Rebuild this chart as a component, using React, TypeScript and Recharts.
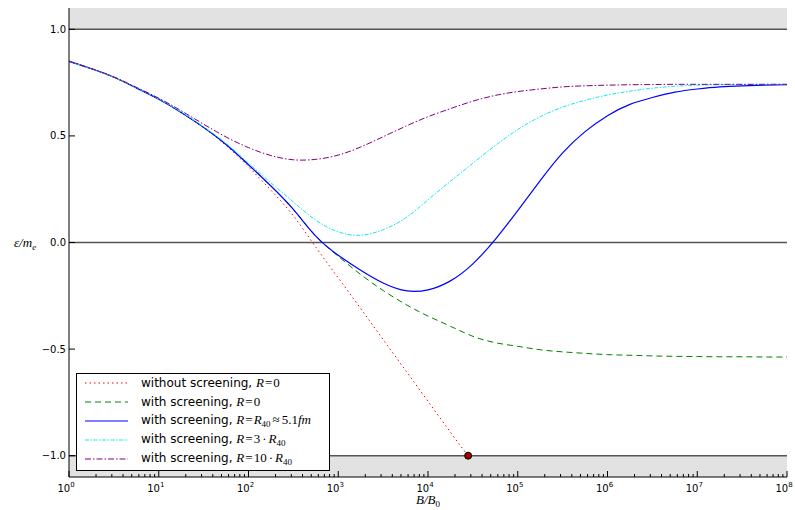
import React from 'react';
import {
  LineChart,
  Line,
  XAxis,
  YAxis,
  ReferenceArea,
  ReferenceLine,
  ReferenceDot,
} from 'recharts';

// ---------------------------------------------------------------------------
// Data. x is log10(B/B0), y is ε/m_e
// ---------------------------------------------------------------------------
const LOG_B = [
  0, 0.25, 0.5, 0.75, 1, 1.25, 1.5, 1.75, 2, 2.25, 2.5, 2.75, 3, 3.25, 3.5, 3.75,
  4, 4.25, 4.5, 4.75, 5, 5.25, 5.5, 5.75, 6, 6.25, 6.5, 6.75, 7, 7.25, 7.5, 7.75, 8,
];

// red curve stops where it hits -1
const LOG_B_NO_SCREENING = [
  0, 0.25, 0.5, 0.75, 1, 1.25, 1.5, 1.75, 2, 2.25, 2.5, 2.75, 3, 3.25, 3.5, 3.75,
  4, 4.25, 4.446,
];
const NO_SCREENING = [
  0.85, 0.815, 0.775, 0.725, 0.672, 0.61, 0.538, 0.455, 0.355, 0.245, 0.125, -0.022,
  -0.166, -0.31, -0.455, -0.6, -0.745, -0.89, -1.0,
];

const SCREENING_R0 = [
  0.85, 0.815, 0.775, 0.725, 0.672, 0.61, 0.54, 0.46, 0.365, 0.265, 0.155, 0.03,
  -0.065, -0.15, -0.225, -0.29, -0.345, -0.393, -0.44, -0.47, -0.487, -0.503, -0.513,
  -0.52, -0.526, -0.529, -0.532, -0.534, -0.535, -0.536, -0.536, -0.537, -0.537,
];

const SCREENING_R40 = [
  0.85, 0.815, 0.775, 0.725, 0.672, 0.61, 0.54, 0.46, 0.365, 0.265, 0.155, 0.03,
  -0.06, -0.13, -0.19, -0.226, -0.222, -0.18, -0.1, 0.015, 0.15, 0.29, 0.42,
  0.52, 0.595, 0.648, 0.68, 0.705, 0.72, 0.73, 0.735, 0.738, 0.74,
];

const SCREENING_3R40 = [
  0.85, 0.815, 0.775, 0.726, 0.673, 0.612, 0.543, 0.465, 0.372, 0.28, 0.19, 0.105,
  0.05, 0.034, 0.06, 0.115, 0.2, 0.287, 0.372, 0.455, 0.53, 0.59, 0.635, 0.667, 0.692,
  0.71, 0.724, 0.733, 0.738, 0.74, 0.741, 0.742, 0.742,
];

const SCREENING_10R40 = [
  0.85, 0.816, 0.777, 0.728, 0.677, 0.618, 0.555, 0.495, 0.445, 0.408, 0.388, 0.39,
  0.41, 0.448, 0.496, 0.545, 0.59, 0.628, 0.663, 0.69, 0.708, 0.72, 0.73, 0.735,
  0.738, 0.74, 0.741, 0.742, 0.742, 0.742, 0.742, 0.742, 0.742,
];

// end point of the unscreened curve
const END_POINT = { b: 2.8e4, v: -1.0 };

const X_DECADES = [0, 1, 2, 3, 4, 5, 6, 7, 8];
const MINOR_MULTIPLES = [2, 3, 4, 5, 6, 7, 8, 9];
const Y_TICKS = [-1.0, -0.5, 0.0, 0.5, 1.0];

// ---------------------------------------------------------------------------
// Layout constants
// ---------------------------------------------------------------------------
const WIDTH = 795;
const HEIGHT = 510;
const PLOT_LEFT = 69;
const PLOT_RIGHT = 787;
const PLOT_TOP = 8;
const PLOT_BOTTOM = 477;
const SANS = '"DejaVu Sans", sans-serif';
const SERIF = '"Liberation Serif", serif';

const toSeries = (logB: number[], vals: number[]) =>
  logB.map((d, i) => ({ b: Math.pow(10, d), v: vals[i] }));

const MAJOR_TICKS = X_DECADES.map((d) => Math.pow(10, d));
const X_TICKS = [
  ...MAJOR_TICKS,
  ...X_DECADES.slice(0, -1).flatMap((d) => MINOR_MULTIPLES.map((m) => m * Math.pow(10, d))),
].sort((a, b) => a - b);

const isMajor = (v: number) => Math.abs(Math.log10(v) - Math.round(Math.log10(v))) < 1e-9;

// ---------------------------------------------------------------------------
// Math-ish text helpers for the legend
// ---------------------------------------------------------------------------
function M({ children }: { children: React.ReactNode }) {
  return <span style={{ fontFamily: SERIF, fontStyle: 'italic', fontSize: 13 }}>{children}</span>;
}
function Rm({ children, gap = 0 }: { children: React.ReactNode; gap?: number }) {
  return <span style={{ fontFamily: SERIF, fontSize: 13, margin: `0 ${gap}px` }}>{children}</span>;
}
function Sub({ children }: { children: React.ReactNode }) {
  return (
    <span style={{ fontFamily: SERIF, fontSize: 9, verticalAlign: '-3px' }}>{children}</span>
  );
}

const SERIES = [
  {
    key: 'none',
    data: toSeries(LOG_B_NO_SCREENING, NO_SCREENING),
    color: '#ff0000',
    dash: '1.5 3',
    width: 1,
    label: (
      <>
        without screening, <M>R</M>
        <Rm gap={1}>=</Rm>
        <Rm>0</Rm>
      </>
    ),
  },
  {
    key: 'r0',
    data: toSeries(LOG_B, SCREENING_R0),
    color: '#008000',
    dash: '6 4',
    width: 1,
    label: (
      <>
        with screening, <M>R</M>
        <Rm gap={1}>=</Rm>
        <Rm>0</Rm>
      </>
    ),
  },
  {
    key: 'r40',
    data: toSeries(LOG_B, SCREENING_R40),
    color: '#0000ff',
    dash: undefined,
    width: 1.2,
    label: (
      <>
        with screening, <M>R</M>
        <Rm gap={1}>=</Rm>
        <M>R</M>
        <Sub>40</Sub>
        <Rm gap={2}>≈</Rm>
        <Rm>5.1</Rm>
        <M>fm</M>
      </>
    ),
  },
  {
    key: 'r3',
    data: toSeries(LOG_B, SCREENING_3R40),
    color: '#10e8f0',
    dash: '4 1.5 1.5 1.5',
    width: 1,
    label: (
      <>
        with screening, <M>R</M>
        <Rm gap={1}>=</Rm>
        <Rm>3</Rm>
        <Rm gap={2}>·</Rm>
        <M>R</M>
        <Sub>40</Sub>
      </>
    ),
  },
  {
    key: 'r10',
    data: toSeries(LOG_B, SCREENING_10R40),
    color: '#800080',
    dash: '6 2 1.5 2',
    width: 1,
    label: (
      <>
        with screening, <M>R</M>
        <Rm gap={1}>=</Rm>
        <Rm>10</Rm>
        <Rm gap={2}>·</Rm>
        <M>R</M>
        <Sub>40</Sub>
      </>
    ),
  },
];

// ---------------------------------------------------------------------------
// Ticks (matplotlib style: pointing inwards, on all four sides)
// ---------------------------------------------------------------------------
function BottomTick(props: any) {
  const { x, payload } = props;
  const major = isMajor(payload.value);
  const exp = Math.round(Math.log10(payload.value));
  return (
    <g>
      <line x1={x} x2={x} y1={PLOT_BOTTOM} y2={PLOT_BOTTOM - (major ? 6 : 3)} stroke="#000" />
      {major && (
        <text x={x - 3} y={491.5} textAnchor="middle" fontSize={10} fontFamily={SANS} fill="#000">
          10
          <tspan dy={-5} fontSize={7}>
            {exp}
          </tspan>
        </text>
      )}
    </g>
  );
}

function TopTick(props: any) {
  const { x, payload } = props;
  const major = isMajor(payload.value);
  return <line x1={x} x2={x} y1={PLOT_TOP} y2={PLOT_TOP + (major ? 6 : 3)} stroke="#000" />;
}

function LeftTick(props: any) {
  const { y, payload } = props;
  const v = payload.value as number;
  const txt = (v < 0 ? '\u2212' : '') + Math.abs(v).toFixed(1);
  return (
    <g>
      <line x1={PLOT_LEFT} x2={PLOT_LEFT + 6} y1={y} y2={y} stroke="#000" />
      <text x={PLOT_LEFT - 3} y={y + 3.5} textAnchor="end" fontSize={10} fontFamily={SANS} fill="#000">
        {txt}
      </text>
    </g>
  );
}

function RightTick(props: any) {
  const { y } = props;
  return <line x1={PLOT_RIGHT} x2={PLOT_RIGHT - 6} y1={y} y2={y} stroke="#000" />;
}

// ---------------------------------------------------------------------------
// Legend box (overlaid at the lower left of the plot)
// ---------------------------------------------------------------------------
function LegendBox() {
  return (
    <div
      style={{
        position: 'absolute',
        left: 76,
        top: 373,
        width: 252,
        height: 96,
        border: '1px solid #000',
        background: '#fff',
      }}
    >
      {SERIES.map((s) => (
        <div
          key={s.key}
          style={{
            display: 'flex',
            alignItems: 'center',
            height: 18.8,
            fontFamily: SANS,
            fontSize: 12,
            color: '#000',
            whiteSpace: 'nowrap',
          }}
        >
          <svg width={64} height={10} style={{ flex: 'none' }}>
            <line
              x1={8}
              x2={51}
              y1={5}
              y2={5}
              stroke={s.color}
              strokeWidth={s.width}
              strokeDasharray={s.dash}
            />
          </svg>
          <span>{s.label}</span>
        </div>
      ))}
    </div>
  );
}

// ---------------------------------------------------------------------------
// Component
// ---------------------------------------------------------------------------
export default function App() {
  return (
    <div style={{ position: 'absolute', left: 0, top: 0, width: WIDTH, height: HEIGHT, background: '#fff' }}>
      <LineChart width={WIDTH} height={HEIGHT} margin={{ top: PLOT_TOP, right: WIDTH - PLOT_RIGHT, bottom: 0, left: 0 }}>
        <XAxis
          xAxisId="bottom"
          dataKey="b"
          type="number"
          scale="log"
          domain={[1, 1e8]}
          allowDataOverflow
          ticks={X_TICKS}
          interval={0}
          tick={<BottomTick />}
          tickLine={false}
          axisLine={{ stroke: '#000', strokeWidth: 1 }}
          height={HEIGHT - PLOT_BOTTOM}
        />
        <XAxis
          xAxisId="top"
          orientation="top"
          dataKey="b"
          type="number"
          scale="log"
          domain={[1, 1e8]}
          allowDataOverflow
          ticks={X_TICKS}
          interval={0}
          tick={<TopTick />}
          tickLine={false}
          axisLine={{ stroke: '#000', strokeWidth: 1 }}
          height={0}
        />
        <YAxis
          yAxisId="left"
          type="number"
          domain={[-1.1, 1.1]}
          allowDataOverflow
          ticks={Y_TICKS}
          interval={0}
          tick={<LeftTick />}
          tickLine={false}
          axisLine={{ stroke: '#000', strokeWidth: 1 }}
          width={PLOT_LEFT}
        />
        <YAxis
          yAxisId="right"
          orientation="right"
          type="number"
          domain={[-1.1, 1.1]}
          allowDataOverflow
          ticks={Y_TICKS}
          interval={0}
          tick={<RightTick />}
          tickLine={false}
          axisLine={{ stroke: '#808080', strokeWidth: 2 }}
          width={0}
        />

        <ReferenceArea xAxisId="bottom" yAxisId="left" x1={1} x2={1e8} y1={1} y2={1.1} fill="#e2e2e2" fillOpacity={1} stroke="none" ifOverflow="hidden" />
        <ReferenceArea xAxisId="bottom" yAxisId="left" x1={1} x2={1e8} y1={-1.1} y2={-1} fill="#e2e2e2" fillOpacity={1} stroke="none" ifOverflow="hidden" />
        <ReferenceLine xAxisId="bottom" yAxisId="left" y={1} stroke="#555" strokeWidth={1.5} />
        <ReferenceLine xAxisId="bottom" yAxisId="left" y={0} stroke="#555" strokeWidth={1.5} />
        <ReferenceLine xAxisId="bottom" yAxisId="left" y={-1} stroke="#555" strokeWidth={1.5} />

        {SERIES.map((s) => (
          <Line
            key={s.key}
            xAxisId="bottom"
            yAxisId="left"
            data={s.data}
            dataKey="v"
            type="natural"
            stroke={s.color}
            strokeWidth={s.width}
            strokeDasharray={s.dash}
            dot={false}
            activeDot={false}
            isAnimationActive={false}
          />
        ))}

        <ReferenceDot
          xAxisId="bottom"
          yAxisId="left"
          x={END_POINT.b}
          y={END_POINT.v}
          r={3.5}
          fill="#a00000"
          stroke="#000"
          strokeWidth={1}
        />

        {/* axis labels */}
        <text x={14} y={247} fontFamily={SERIF} fontStyle="italic" fontSize={13} fill="#000">
          ε/m
          <tspan dy={3} fontSize={9}>
            e
          </tspan>
        </text>
        <text x={(PLOT_LEFT + PLOT_RIGHT) / 2} y={504} textAnchor="middle" fontFamily={SERIF} fontStyle="italic" fontSize={13} fill="#000">
          B/B
          <tspan dy={3} fontSize={9} fontStyle="normal">
            0
          </tspan>
        </text>
      </LineChart>
      <LegendBox />
    </div>
  );
}
